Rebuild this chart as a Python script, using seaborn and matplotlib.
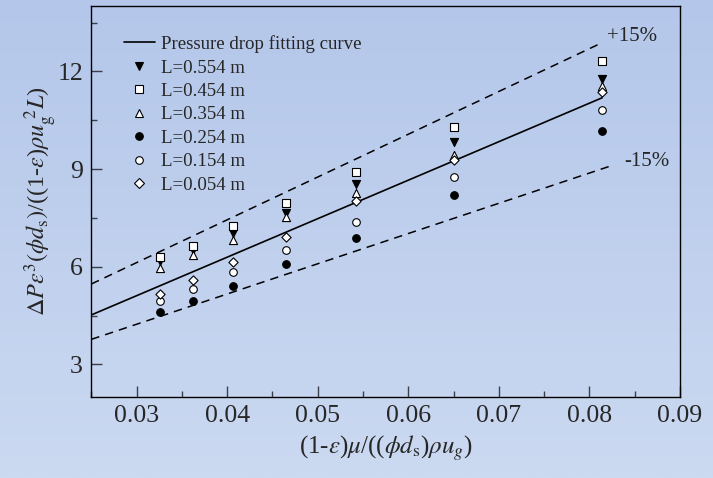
import numpy as np
import pandas as pd
import matplotlib
matplotlib.use("Agg")
import matplotlib.pyplot as plt
from matplotlib.lines import Line2D
from matplotlib.ticker import MultipleLocator
import seaborn as sns

# ---------------- data ----------------
x_vals = [0.0326, 0.0362, 0.0407, 0.0465, 0.0542, 0.0651, 0.0814]
series_labels = ["L=0.554 m", "L=0.454 m", "L=0.354 m",
                 "L=0.254 m", "L=0.154 m", "L=0.054 m"]
y_0554 = [6.18, 6.51, 7.05, 7.66, 8.53, 9.82, 11.76]
y_0454 = [6.29, 6.65, 7.25, 7.95, 8.91, 10.28, 12.33]
y_0354 = [5.95, 6.36, 6.82, 7.52, 8.27, 9.43, 11.55]
y_0254 = [4.62, 4.95, 5.41, 6.08, 6.88, 8.21, 10.16]
y_0154 = [4.96, 5.31, 5.84, 6.51, 7.38, 8.75, 10.81]
y_0054 = [5.16, 5.59, 6.16, 6.90, 8.02, 9.28, 11.38]
series_values = [y_0554, y_0454, y_0354, y_0254, y_0154, y_0054]

fit_x = [0.025, 0.0814]
fit_y = [4.52, 11.19]
upper_x = [0.025, 0.0813]
upper_y = [5.47, 12.87]
lower_x = [0.025, 0.0826]
lower_y = [3.77, 9.12]

x_ticks = [0.03, 0.04, 0.05, 0.06, 0.07, 0.08, 0.09]
y_ticks = [3, 6, 9, 12]

# ---------------- style ----------------
sns.set_theme(style="ticks")
plt.rcParams["font.family"] = ["Liberation Serif", "DejaVu Serif"]
plt.rcParams["mathtext.fontset"] = "stix"

markers = {series_labels[0]: "v", series_labels[1]: "s", series_labels[2]: "^",
           series_labels[3]: "o", series_labels[4]: "o", series_labels[5]: "D"}
faces = {series_labels[0]: "black", series_labels[1]: "white", series_labels[2]: "white",
         series_labels[3]: "black", series_labels[4]: "white", series_labels[5]: "white"}
sizes = {series_labels[0]: 34, series_labels[1]: 26, series_labels[2]: 34,
         series_labels[3]: 30, series_labels[4]: 30, series_labels[5]: 22}

rows = []
for lab, vals in zip(series_labels, series_values):
    for xv, yv in zip(x_vals, vals):
        rows.append({"x": xv, "y": yv, "L": lab})
df = pd.DataFrame(rows)

W, H = 713, 478
fig = plt.figure(figsize=(W / 100, H / 100), dpi=100)

# gradient background
bg = fig.add_axes([0, 0, 1, 1], zorder=-10)
top = np.array([180, 199, 234]) / 255.0
bot = np.array([203, 217, 241]) / 255.0
t = np.linspace(0, 1, 256)[:, None]
grad = (top[None, :] * (1 - t) + bot[None, :] * t)[:, None, :]
bg.imshow(grad, aspect="auto", extent=[0, 1, 0, 1])
bg.axis("off")

ax = fig.add_axes([91.3 / W, 1 - 397 / H, (680 - 91.3) / W, (397 - 6.3) / H])
ax.set_facecolor("none")

sns.lineplot(data=pd.DataFrame({"x": fit_x, "y": fit_y}), x="x", y="y", ax=ax,
             color="black", lw=1.2, zorder=2)
sns.lineplot(data=pd.DataFrame({"x": upper_x, "y": upper_y}), x="x", y="y", ax=ax,
             color="black", lw=1.1, zorder=2)
sns.lineplot(data=pd.DataFrame({"x": lower_x, "y": lower_y}), x="x", y="y", ax=ax,
             color="black", lw=1.1, zorder=2)
ax.lines[1].set_dashes((5.5, 4.0))
ax.lines[2].set_dashes((5.5, 4.0))

for lab in series_labels:
    sub = df[df["L"] == lab]
    sns.scatterplot(data=sub, x="x", y="y", ax=ax, marker=markers[lab],
                    color=faces[lab], edgecolor="black", linewidth=0.8,
                    s=sizes[lab], zorder=3, legend=False)

ax.set_xlim(0.025, 0.09)
ax.set_ylim(2, 14)
ax.set_xticks(x_ticks)
ax.set_xticklabels([f"{v:.2f}" for v in x_ticks])
ax.set_yticks(y_ticks)
ax.xaxis.set_minor_locator(MultipleLocator(0.005))
ax.yaxis.set_minor_locator(MultipleLocator(1.5))
ax.tick_params(which="both", direction="in", top=False, right=False,
               labelsize=18.5, color="#3a3f4a", width=1.0, pad=6)
ax.tick_params(which="major", length=8)
ax.tick_params(which="minor", length=4)
for sp in ax.spines.values():
    sp.set_color("black")
    sp.set_linewidth(1.0)

ax.set_xlabel(r"(1-$\varepsilon$)$\mu$/(($\phi d_\mathrm{s}$)$\rho u_g$)", fontsize=18, labelpad=4)
ax.set_ylabel(r"$\Delta P\varepsilon^3(\phi d_\mathrm{s})$/((1-$\varepsilon$)$\rho u_\mathrm{g}^{\ 2}L$)",
              fontsize=17.5, labelpad=-1)

ax.text(0.0819, 13.07, "+15%", fontsize=15, va="center", ha="left")
ax.text(0.0838, 9.23, "-15%", fontsize=15, va="center", ha="left")

handles = [Line2D([], [], color="black", lw=1.2)]
for lab in series_labels:
    handles.append(Line2D([], [], ls="none", marker=markers[lab],
                          markerfacecolor=faces[lab], markeredgecolor="black",
                          markeredgewidth=0.8, markersize=np.sqrt(sizes[lab])))
leg = ax.legend(handles, ["Pressure drop fitting curve"] + series_labels,
                loc="upper left", bbox_to_anchor=(0.055, 0.926), frameon=False,
                fontsize=13.6, handlelength=1.65, handletextpad=0.3,
                labelspacing=0.33, borderpad=0, borderaxespad=0)

fig.savefig("out.png", dpi=100)
